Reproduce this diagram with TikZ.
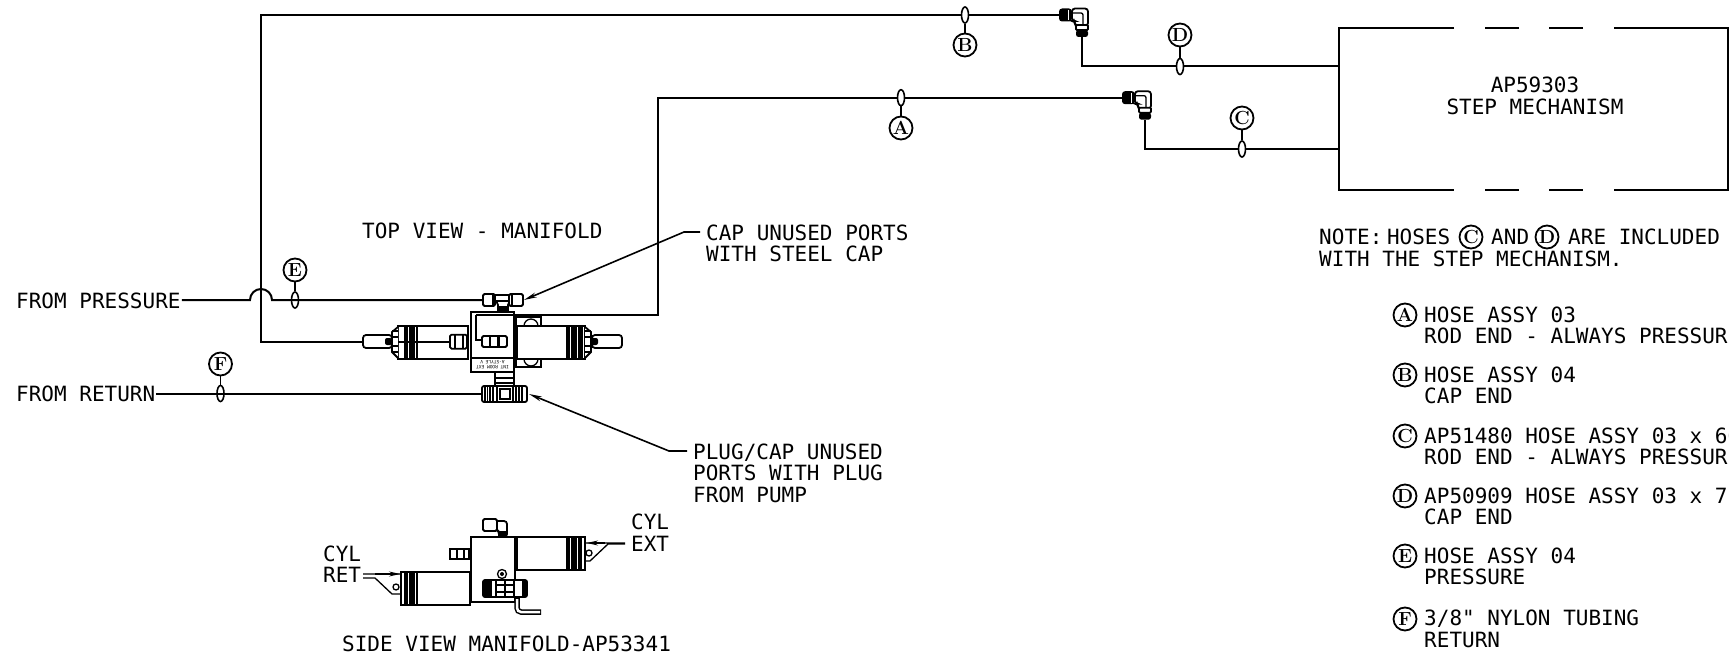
\documentclass[tikz,border=0pt]{standalone}
\usepackage{fontspec}
\usepackage{tikz}
\usetikzlibrary{shapes.geometric,positioning,calc}
\usetikzlibrary{arrows.meta}
\newfontfamily\cadfont{DejaVu Sans Mono}
\tikzset{
    cad/.style={font=\cadfont\fontsize{21}{21.5}\selectfont, align=left, inner sep=1pt},
    balloon/.style={circle, draw, line width=1.8pt, fill=white, minimum size=23pt, inner sep=0pt,
        font=\rmfamily\bfseries\fontsize{19}{19}\selectfont},
    pin/.style={ellipse, draw, line width=1.6pt, minimum width=7pt, minimum height=16pt, inner sep=0pt},
    hose/.style={line width=2pt},
    fine/.style={line width=1.3pt},
    part/.style={line width=1.8pt, draw, fill=white},
    nut/.style={part, rounded corners=1.5pt, inner sep=0pt},
    knurl/.style={line width=1.2pt},
    leader/.style={line width=1.6pt, {Stealth[length=13pt,width=5pt]}-}
}
\begin{document}
\begin{tikzpicture}[x=1pt, y=-1pt]
    \useasboundingbox (0,0) rectangle (1729,655);
    \clip (0,0) rectangle (1729,655);

    \node[cad, anchor=west] (fromP) at (15,300.5) {FROM PRESSURE};
    \node[cad, anchor=west] (fromR) at (15,394) {FROM RETURN};
    \node[cad, anchor=west] (topview) at (361,230.5) {TOP VIEW - MANIFOLD};
    \node[cad, anchor=west] (capnote) at (705,243.5) {CAP UNUSED PORTS\\WITH STEEL CAP};
    \node[cad, anchor=west] (plugnote) at (692,473) {PLUG/CAP UNUSED\\PORTS WITH PLUG\\FROM PUMP};
    \node[cad, anchor=west] (sideview) at (341,644) {SIDE VIEW MANIFOLD-AP53341};
    \node[cad, anchor=west] (cylret) at (322,564) {CYL\\RET};
    \node[cad, anchor=west] (cylext) at (630,532.5) {CYL\\EXT};

    % step mechanism
    \draw[hose] (1729,27.7) -- (1614,27.7) (1583,27.7) -- (1549,27.7) (1519,27.7) -- (1485,27.7)
        (1454,27.7) -- (1339,27.7) -- (1339,190) -- (1454,190) (1485,190) -- (1519,190)
        (1549,190) -- (1583,190) (1614,190) -- (1729,190);
    \draw[hose] (1728,27.7) -- (1728,190);
    \coordinate (stepD) at (1339,66.5);
    \coordinate (stepC) at (1339,149);
    \node[cad, align=center] (stepname) at (1535,96) {AP59303\\STEP MECHANISM};

    % hoses
    \coordinate (tapE) at (483,300);
    \coordinate (tapF) at (482,393.5);
    \coordinate (portB) at (450,341.7);
    \coordinate (portA) at (514,315);
    \coordinate (jumpL) at (250,300);
    \coordinate (cornerB) at (261,341.7);
    \coordinate (cornerB2) at (261,15);
    \coordinate (cornerA) at (658,315);
    \coordinate (cornerA2) at (658,97.7);
    \coordinate (elbowB) at (1060,15);
    \coordinate (elbowA) at (1122,97.7);
    \coordinate (elbowD) at (1082,37);
    \coordinate (elbowC) at (1144.7,120);

    \draw[hose] (fromP.east |- jumpL) -- (jumpL) arc[start angle=180, end angle=360, radius=11] -- (tapE);
    \draw[hose] (fromR.east |- tapF) -- (tapF);
    \draw[hose] (portB) -- (cornerB) -- (cornerB2) -- (elbowB);
    \draw[hose] (portA) -- (cornerA) -- (cornerA2) -- (elbowA);
    \draw[hose] (elbowD) |- (stepD);
    \draw[hose] (elbowC) |- (stepC);

    % hose elbows
    \foreach \xo/\yo in {1059/15, 1122/97.7}{
        \draw[part, rounded corners=3pt] (\xo+13,\yo-6.5) -- (\xo+29,\yo-6.5) -- (\xo+29,\yo+11) -- (\xo+16,\yo+11)
            -- (\xo+16,\yo+6) -- (\xo+13,\yo+6) -- cycle;
        \draw[fine, rounded corners=2pt] (\xo+14,\yo-2) -- (\xo+24,\yo-2) -- (\xo+24,\yo+11);
        \fill[rounded corners=3pt] (\xo,\yo-6.5) rectangle (\xo+13,\yo+6.5);
        \draw[white, line width=.8pt] (\xo+9,\yo-5) -- (\xo+9,\yo+5);
        \draw[part, rounded corners=1pt] (\xo+17,\yo+10) rectangle (\xo+29,\yo+15);
        \fill[rounded corners=2.5pt] (\xo+17,\yo+15) rectangle (\xo+29,\yo+22);
    }

    % top view cylinders
    \draw[part] (516,317) rectangle (541,367);
    \draw[fine] (524,326) arc[start angle=180, end angle=360, radius=7];
    \draw[fine] (524,359) arc[start angle=180, end angle=0, radius=7];
    \draw[part, rounded corners=3pt] (363,335) rectangle (392,348);
    \draw[part, rounded corners=3pt] (592,335) rectangle (622,348);
    \draw[part] (398,326) rectangle (468,359);
    \draw[part] (517,326) rectangle (585,359);
    \draw[part] (398,327) -- (392,332) -- (392,352) -- (398,358);
    \draw[part] (585,327) -- (591,332) -- (591,352) -- (585,358);
    \foreach \x in {405,406.4,...,418}{
        \draw[knurl] (\x,326) -- (\x,359);
    }
    \foreach \x in {567,568.4,...,583}{
        \draw[knurl] (\x,326) -- (\x,359);
    }
    \foreach \y in {331,337,346,352}{
        \draw[line width=2pt] (392,\y) -- (398,\y);
        \draw[line width=2pt] (585,\y) -- (591,\y);
    }
    \fill[rounded corners=2pt] (385,338) rectangle (392,345);
    \fill[rounded corners=2pt] (591,338) rectangle (598,345);
    \draw[hose] (398,341.7) -- (450,341.7);
    \node[nut, minimum width=17pt, minimum height=14pt] (cylport) at (458.5,341.7) {};
    \draw[fine] (455,335) -- (455,348.5) (463,335) -- (463,348.5);

    % manifold top view
    \node[part, line width=2pt, minimum width=43pt, minimum height=60pt, inner sep=0pt] (manifold) at (492.5,342) {};
    \draw[fine] (476,315) -- (514,315) (476,315) -- (476,340) -- (482,340);
    \draw[fine] (471,358) -- (514,358);
    \node[nut, minimum width=25pt, minimum height=11pt] (inport) at (494.5,341.5) {};
    \fill (497,337) rectangle (500,346);
    \draw[fine] (490,336) -- (490,347);
    \node[rotate=180, font=\cadfont\fontsize{4.5}{5}\selectfont, align=center, inner sep=0pt] (platetext) at (492.5,365) {INT ROOM EXT\\A-STYLE V};

    % tee fittings
    \draw[part] (498,312) -- (498,305) -- (495,298) (508,312) -- (508,305) -- (511,298);
    \fill (497,306) rectangle (509,312);
    \draw[part] (495,295) rectangle (509,301);
    \node[nut, minimum width=12pt, minimum height=12pt] (teeL) at (489,300) {};
    \node[nut, minimum width=14pt, minimum height=12pt] (teeR) at (516,300) {};
    \draw[fine] (493,294) -- (493,306) (512,294) -- (512,306);
    \draw[part] (495,372) rectangle (514,386);
    \draw[hose] (495,378) -- (514,378) (495,383) -- (514,383);
    \draw[part, rounded corners=2pt] (482,386) rectangle (527,402);
    \foreach \x in {485,487.5,490,493,516,519,522}{
        \draw[fine] (\x,386) -- (\x,402);
    }
    \node[part, minimum width=16pt, minimum height=16pt, inner sep=0pt] (teeB) at (505,394) {};
    \draw[fine] (500,389) rectangle (510,399);

    % side view manifold
    \draw[part] (471,537) rectangle (515,602);
    \draw[part] (517,537) rectangle (585,570);
    \draw[part] (401,572) rectangle (470,605);
    \draw[line width=2.5pt] (470,580) -- (470,597) (516.5,545) -- (516.5,562);
    \foreach \x in {405,406.4,...,418}{
        \draw[knurl] (\x,572) -- (\x,605);
    }
    \foreach \x in {567,568.4,...,582}{
        \draw[knurl] (\x,537) -- (\x,570);
    }
    \draw[part, rounded corners=3pt] (495,521) -- (507,521) -- (507,537) -- (499,537) -- (499,531) -- (495,529) -- cycle;
    \fill (498,531) rectangle (507,537);
    \node[nut, minimum width=14pt, minimum height=12pt] (sidenut) at (490,525) {};
    \node[part, minimum width=19pt, minimum height=10pt, inner sep=0pt] (sideport) at (459.5,554) {};
    \draw[fine] (457,549) -- (457,559) (464,549) -- (464,559);
    \draw[fine] (363,574) -- (400,574) (363,578) -- (375,578) -- (392,594) -- (400,594);
    \draw[-{Stealth[length=11pt,width=5pt]}, fine] (375,574) -- (400,574);
    \draw[fine] (396,587) circle[radius=3];
    \draw[fine] (625,543) -- (585,543) (625,544) -- (608,544) -- (590,561) -- (585,561);
    \draw[-{Stealth[length=11pt,width=5pt]}, fine] (605,543) -- (587,543);
    \draw[fine] (589,553) circle[radius=3];
    \draw[fine] (502,574) circle[radius=4.5];
    \fill (502,574) circle[radius=2];
    \draw[line width=5.5pt, rounded corners=4pt] (517,597) -- (517,612) -- (541,612);
    \draw[white, line width=2.5pt, rounded corners=4pt] (517,599) -- (517,612) -- (540,612);
    \draw[part, rounded corners=2pt] (483,580) rectangle (527,597);
    \foreach \x in {485,487,489,491,496,514,523,525}{
        \draw[fine] (\x,580) -- (\x,597);
    }
    \draw[fine] (496,585) -- (514,585) (496,592) -- (514,592) (505,580) -- (505,597);

    % hose balloons
    \foreach \name/\x/\y/\by/\pf in {A/901/97.7/128/white, B/965/15/45/white, C/1242/149/118/white,
        D/1180/66.5/35/white, E/295/300/270/none, F/220.5/393.5/364/none}{
        \node[pin, fill=\pf] (pin\name) at (\x,\y) {};
        \node[balloon] (bal\name) at (\x,\by) {\name};
        \draw[line width=1.5pt] (pin\name) -- (bal\name);
    }

    % leaders
    \coordinate (capelbow) at (684,232);
    \coordinate (capend) at (700,232);
    \coordinate (plugelbow) at (669,451);
    \coordinate (plugend) at (687,451);
    \draw[leader] (teeR.east) -- (capelbow) -- (capend);
    \draw[leader] (teeB.east -| 529,394) -- (plugelbow) -- (plugend);

    % note
    \node[cad, anchor=west] (notea) at (1318,237) {NOTE:\hspace{-8pt} HOSES};
    \node[balloon] (noteC) at (1471,237) {C};
    \node[cad, anchor=west] (noteb) at (1490,237) {AND};
    \node[balloon] (noteD) at (1547,237) {D};
    \node[cad, anchor=west] (notec) at (1567,237) {ARE INCLUDED};
    \node[cad, anchor=west] (noted) at (1318,259) {WITH THE STEP MECHANISM.};

    % hose list
    \foreach \name/\y/\first/\second in {A/315/HOSE ASSY 03/ROD END - ALWAYS PRESSURE,
        B/375/HOSE ASSY 04/CAP END,
        C/436/AP51480 HOSE ASSY 03 x 66/ROD END - ALWAYS PRESSURE,
        D/496/AP50909 HOSE ASSY 03 x 72/CAP END,
        E/556/HOSE ASSY 04/PRESSURE,
        F/619/3\slash 8" NYLON TUBING/RETURN}{
        \node[balloon] (list\name) at (1405,\y) {\name};
        \node[cad, anchor=west] (first\name) at (1423,\y) {\first};
        \node[cad, anchor=west] (second\name) at (1423,\y+21) {\second};
    }
\end{tikzpicture}
\end{document}
